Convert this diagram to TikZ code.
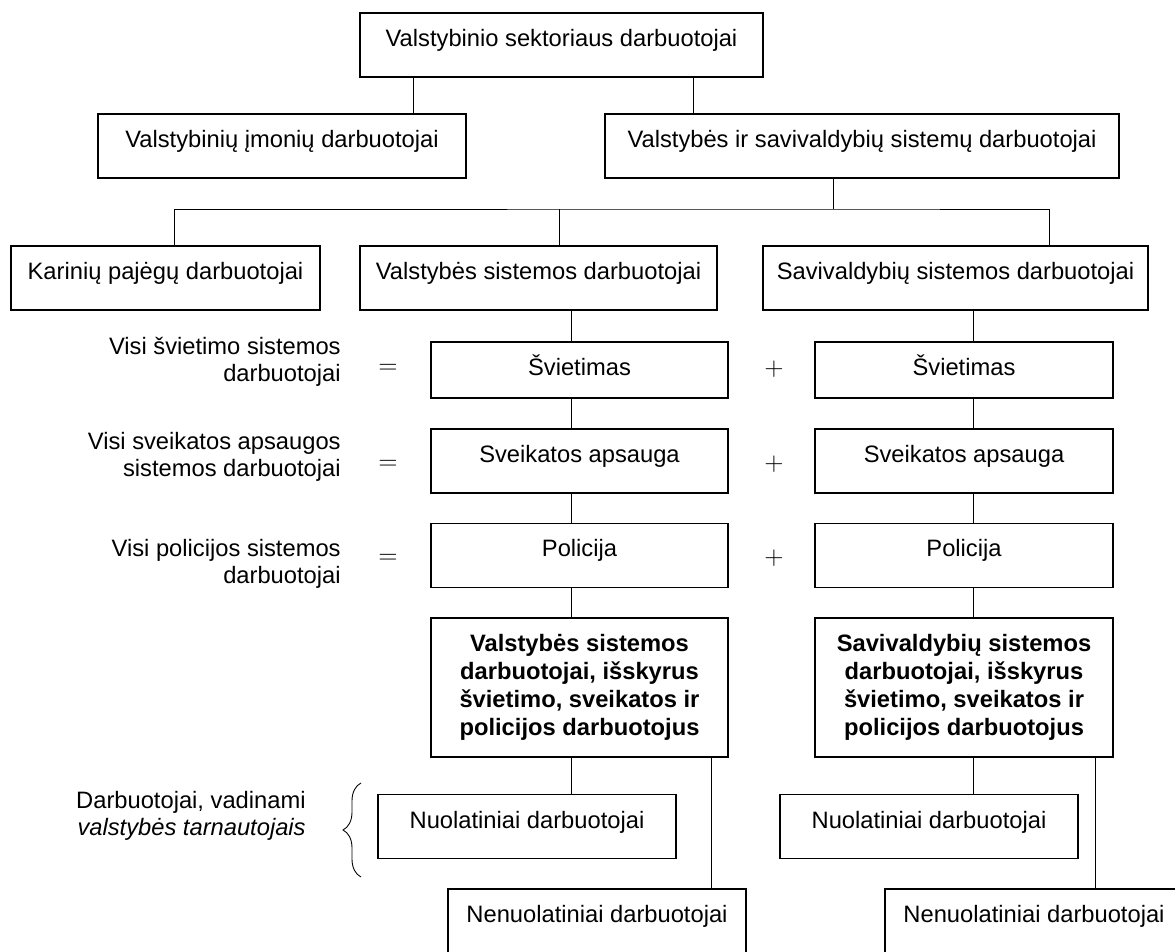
\documentclass[tikz,border=0pt]{standalone}
\usepackage{fontspec}
\setmainfont{Liberation Sans}
\usetikzlibrary{positioning,decorations.pathreplacing}

\begin{document}
\begin{tikzpicture}[
    box/.style={draw, line width=0.7pt, inner sep=0pt, minimum height=1.28cm, text height=0.67cm, text depth=0.61cm, font=\fontsize{13.5}{15.9}\selectfont},
    smallbox/.style={box, minimum height=1.12cm, text depth=0.45cm},
    boldbox/.style={draw, line width=0.7pt, inner sep=0pt, minimum height=2.78cm, align=center, font=\fontsize{13.5}{15.9}\selectfont\bfseries},
    note/.style={anchor=east, align=right, inner sep=0pt, font=\fontsize{13.5}{15.3}\selectfont},
    sign/.style={inner sep=0pt, font=\fontsize{13.5}{15}\selectfont},
    link/.style={line width=0.5pt}
]
    \useasboundingbox (0,0) rectangle (23.5,19.02);
    \clip (0,0) rectangle (23.5,19.02);

    \node[box, minimum width=8.06cm] (top) at (11.23,18.12) {Valstybinio sektoriaus darbuotojai};
    \node[box, minimum width=7.36cm] (imon) at (5.64,16.10) {Valstybinių įmonių darbuotojai};
    \node[box, minimum width=10.28cm] (vss) at (17.24,16.10) {Valstybės ir savivaldybių sistemų darbuotojai};
    \node[box, minimum width=6.18cm] (kar) at (3.31,13.46) {Karinių pajėgų darbuotojai};
    \node[box, minimum width=7.14cm] (vs) at (10.77,13.46) {Valstybės sistemos darbuotojai};
    \node[box, minimum width=7.70cm] (ss) at (19.11,13.46) {Savivaldybių sistemos darbuotojai};

    \node[smallbox, minimum width=5.94cm] (sv1) at (11.59,11.62) {Švietimas};
    \node[smallbox, minimum width=5.96cm] (sv2) at (19.28,11.62) {Švietimas};
    \node[box, minimum width=5.94cm] (sa1) at (11.59,9.80) {Sveikatos apsauga};
    \node[box, minimum width=5.96cm] (sa2) at (19.28,9.80) {Sveikatos apsauga};
    \node[box, minimum width=5.94cm] (pol1) at (11.59,7.91) {Policija};
    \node[box, minimum width=5.96cm] (pol2) at (19.28,7.91) {Policija};
    \node[boldbox, minimum width=5.94cm] (bold1) at (11.59,5.27) {Valstybės sistemos\\darbuotojai, išskyrus\\švietimo, sveikatos ir\\policijos darbuotojus};
    \node[boldbox, minimum width=5.96cm] (bold2) at (19.28,5.27) {Savivaldybių sistemos\\darbuotojai, išskyrus\\švietimo, sveikatos ir\\policijos darbuotojus};
    \node[box, minimum width=5.96cm] (nuo1) at (10.54,2.49) {Nuolatiniai darbuotojai};
    \node[box, minimum width=5.96cm] (nuo2) at (18.58,2.49) {Nuolatiniai darbuotojai};
    \node[box, minimum width=5.96cm] (nen1) at (11.94,0.60) {Nenuolatiniai darbuotojai};
    \node[box, minimum width=5.96cm] (nen2) at (20.68,0.60) {Nenuolatiniai darbuotojai};

    \node[note] (n1) at (6.82,11.78) {Visi švietimo sistemos\\darbuotojai};
    \node[note] (n2) at (6.82,9.88) {Visi sveikatos apsaugos\\sistemos darbuotojai};
    \node[note] (n3) at (6.82,7.74) {Visi policijos sistemos\\darbuotojai};
    \node[note] (n4) at (6.12,2.70) {Darbuotojai, vadinami\\\textit{valstybės tarnautojais}};

    \foreach \y [count=\i] in {11.64,9.73,7.85} {
        \node[sign] (eq\i) at (7.76,\y) {$=$};
        \node[sign] (plus\i) at (15.48,\y) {$+$};
    }

    \coordinate (split) at (16.66,14.84);
    \coordinate (brbot) at (7.22,1.48);
    \coordinate (brtop) at (7.22,3.36);

    \draw[link] (8.26,0 |- top.south) -- (8.26,0 |- imon.north);
    \draw[link] (13.86,0 |- top.south) -- (13.86,0 |- vss.north);
    \draw[link] (split |- vss.south) -- (split);
    \draw[link] (3.48,0 |- kar.north) |- (split) -| (20.98,0 |- ss.north);
    \draw[link] (11.18,0 |- vs.north) -- (11.18,0 |- split);
    \foreach \a/\b in {vs/sv1, sv1/sa1, sa1/pol1, pol1/bold1, bold1/nuo1}
        \draw[link] (11.42,0 |- \a.south) -- (11.42,0 |- \b.north);
    \foreach \a/\b in {ss/sv2, sv2/sa2, sa2/pol2, pol2/bold2, bold2/nuo2}
        \draw[link] (19.46,0 |- \a.south) -- (19.46,0 |- \b.north);
    \draw[link] (14.22,0 |- bold1.south) -- (14.22,0 |- nen1.north);
    \draw[link] (21.90,0 |- bold2.south) -- (21.90,0 |- nen2.north);

    \draw[link, decorate, decoration={brace, amplitude=0.36cm}] (brbot) -- (brtop);
\end{tikzpicture}
\end{document}
